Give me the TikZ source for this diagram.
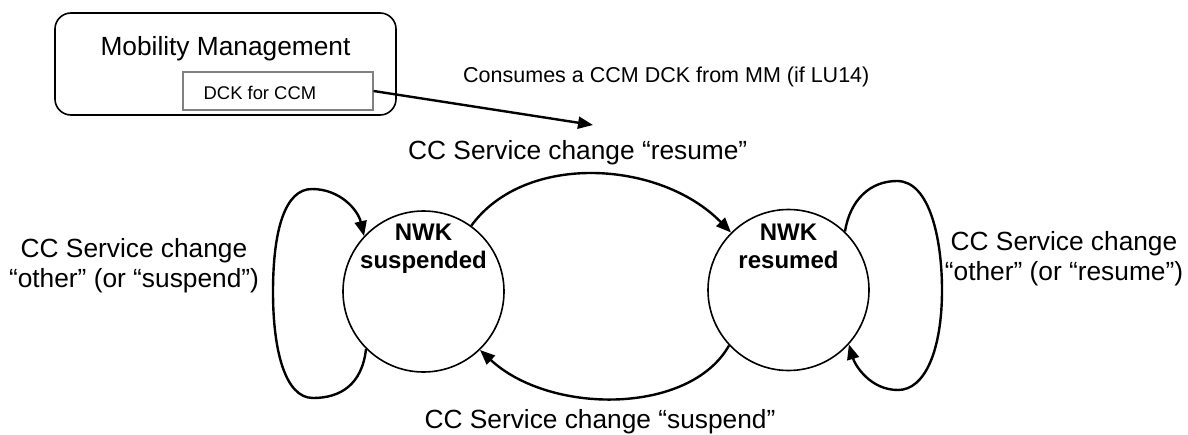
\documentclass[tikz,border=0pt]{standalone}
\usepackage{fontspec}
\setmainfont{Liberation Sans}
\usetikzlibrary{arrows.meta}
\tikzset{
  big/.style={font=\fontsize{26.3}{30}\selectfont, inner sep=0pt},
  small/.style={font=\fontsize{21.5}{25}\selectfont, inner sep=0pt},
  tiny/.style={font=\fontsize{18.4}{22}\selectfont, inner sep=0pt},
  bold/.style={font=\fontsize{24}{27.5}\selectfont\bfseries, inner sep=0pt, align=center},
  state/.style={draw, circle, line width=1.6pt, minimum size=161pt, inner sep=0pt},
  conn/.style={line width=2.4pt, -{Triangle[length=15pt,width=12pt]}},
}
\begin{document}
\begin{tikzpicture}[x=1pt,y=-1pt]
\useasboundingbox (0,0) rectangle (1188,434);
% Mobility management box
\node (mm) [draw, line width=1.6pt, rounded corners=16pt, minimum width=341pt, minimum height=102pt, inner sep=0pt] at (225.5,64) {};
\node (mmtext) [big, anchor=base] at (225.5,55) {Mobility Management};
\node (dck) [draw=black!50, line width=1.2pt, minimum width=190pt, minimum height=38pt, inner sep=0pt] at (278,91) {};
\node (dcktext) [tiny, anchor=base west] at (203.5,99) {DCK for CCM};
\node (cons) [small, anchor=base west] at (463,82) {Consumes a CCM DCK from MM (if LU14)};
\coordinate (ctip) at (593,125);
\draw[conn] (dck.east) -- (ctip);
% states
\node (susp) [state] at (423.5,291.5) {};
\node (resm) [state] at (788.5,290) {};
\node (susptext) [bold, anchor=base] at (423.5,268) {NWK\\suspended};
\node (resmtext) [bold, anchor=base] at (788.5,268) {NWK\\resumed};
% labels
\node (lres) [big, anchor=base west] at (408,159) {CC Service change “resume”};
\node (lsus) [big, anchor=base] at (600,428) {CC Service change “suspend”};
\node (lleft) [big, anchor=base, align=center] at (134,287) {CC Service change\\“other” (or “suspend”)};
\node (lright) [big, anchor=base, align=center] at (1064,280) {CC Service change\\“other” (or “resume”)};
% transitions
\draw[conn] (susp.54) .. controls (525,152) and (660,160) .. (resm.135);
\draw[conn] (resm.223) .. controls (690,415) and (550,415) .. (susp.314);
\draw[conn] (susp.225) .. controls (362,385) and (340,398) .. (313,398)
  .. controls (285,398) and (273,350) .. (273,292)
  .. controls (273,230) and (285,189) .. (312,189)
  .. controls (340,189) and (358,210) .. (susp.137);
\draw[conn] (resm.46) .. controls (850,200) and (870,181) .. (897,181)
  .. controls (930,181) and (942,240) .. (942,290)
  .. controls (942,350) and (925,390) .. (898,390)
  .. controls (870,390) and (855,365) .. (resm.318);
\end{tikzpicture}
\end{document}
